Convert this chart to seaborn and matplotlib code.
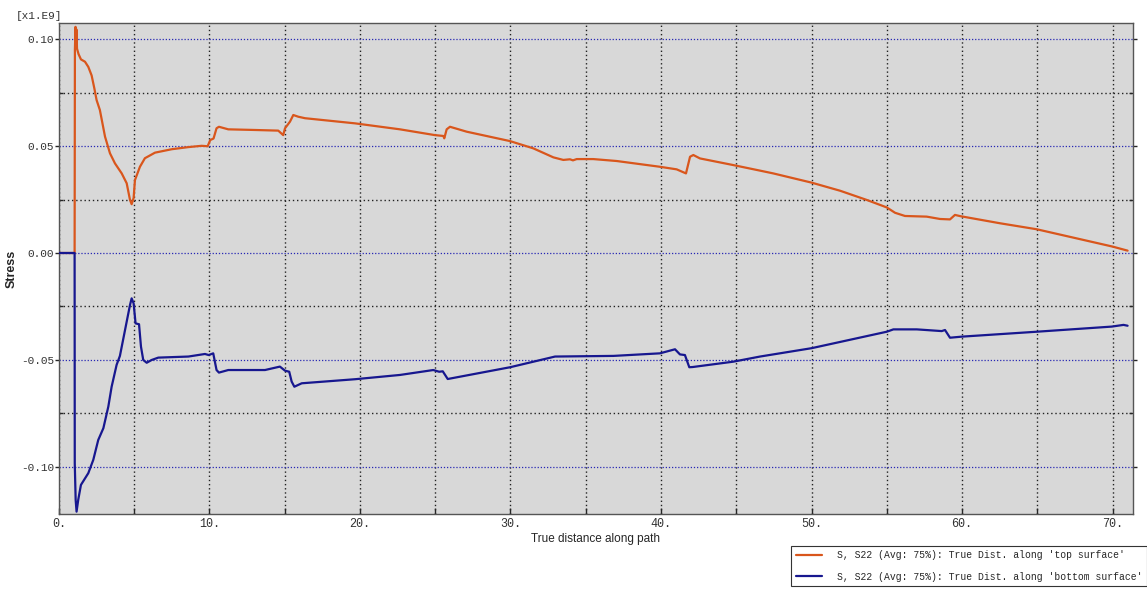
import numpy as np
import pandas as pd
import matplotlib
matplotlib.use("Agg")
import matplotlib.pyplot as plt
import seaborn as sns
from matplotlib.ticker import MultipleLocator, FixedLocator

# ---------- DATA (stress in units of 1e9) ----------
top_x = [0, 1.04, 1.06, 1.10, 1.13, 1.16, 1.20, 1.30, 1.46, 1.73, 1.95, 2.17, 2.35, 2.5,
         2.72, 3.06, 3.39, 3.72, 4.17, 4.5, 4.72, 4.83, 4.96, 5.05, 5.38, 5.71, 6.38,
         7.49, 8.6, 9.48, 9.88, 10.05, 10.27, 10.47, 10.63, 11.25, 13.02, 14.57, 14.9,
         15.02, 15.35, 15.57, 15.9, 16.35, 19.67, 22.66, 24.98, 25.54, 25.6, 25.76,
         25.98, 27.09, 29.97, 31.52, 32.85, 33.51, 33.95, 34.15, 34.4, 35.5, 37.05,
         39.93, 41.04, 41.66, 41.93, 42.15, 42.59, 44.8, 46.58, 47.46, 50.0, 51.9,
         53.67, 55.0, 55.55, 56.21, 57.65, 58.54, 59.2, 59.53, 59.9, 62.52, 64.96,
         70.0, 71.0]
top_y = [0, 0, 0.095, 0.1057, 0.097, 0.1045, 0.0955, 0.093, 0.0905, 0.0894, 0.087,
         0.083, 0.077, 0.0715, 0.0668, 0.0544, 0.0466, 0.0419, 0.0372, 0.0326, 0.0248,
         0.0228, 0.0257, 0.0341, 0.0403, 0.0443, 0.0469, 0.0485, 0.0495, 0.0501,
         0.0499, 0.0528, 0.0535, 0.0583, 0.059, 0.0578, 0.0575, 0.0572, 0.0551,
         0.0583, 0.0614, 0.0645, 0.0637, 0.063, 0.0606, 0.0578, 0.0551, 0.0547,
         0.0536, 0.0578, 0.059, 0.0567, 0.0523, 0.0489, 0.0447, 0.0435, 0.0438,
         0.0433, 0.0439, 0.0439, 0.043, 0.0403, 0.0391, 0.0372, 0.045, 0.0458,
         0.0442, 0.0411, 0.0385, 0.0372, 0.0329, 0.0291, 0.0248, 0.0213, 0.0188,
         0.0173, 0.017, 0.0159, 0.0157, 0.0178, 0.0172, 0.0139, 0.0111, 0.003, 0.0011]

bot_x = [0, 1.04, 1.05, 1.11, 1.17, 1.28, 1.46, 1.95, 2.28, 2.61, 2.95, 3.28, 3.5,
         3.83, 4.05, 4.39, 4.72, 4.83, 4.96, 5.09, 5.32, 5.45, 5.6, 5.83, 6.16, 6.6,
         8.6, 9.7, 9.95, 10.25, 10.47, 10.63, 11.25, 13.69, 14.68, 15.02, 15.3, 15.46,
         15.64, 16.13, 19.67, 22.66, 24.87, 25.26, 25.5, 25.83, 29.97, 32.96, 36.84,
         39.93, 40.93, 41.26, 41.59, 41.88, 42.1, 44.8, 46.58, 50.0, 55.0, 55.44,
         56.99, 58.65, 58.87, 59.2, 59.98, 64.96, 69.95, 70.73, 71.0]
bot_y = [0, 0, -0.0983, -0.1154, -0.1209, -0.1154, -0.1084, -0.1029, -0.0967,
         -0.0874, -0.0819, -0.0718, -0.0625, -0.0523, -0.0481, -0.036, -0.0243,
         -0.0212, -0.0235, -0.0329, -0.0333, -0.0438, -0.05, -0.0513, -0.05, -0.0489,
         -0.0484, -0.0472, -0.0477, -0.0469, -0.0547, -0.0559, -0.0547, -0.0547,
         -0.0531, -0.055, -0.0555, -0.0601, -0.0625, -0.0609, -0.059, -0.057, -0.0547,
         -0.0555, -0.0553, -0.0589, -0.0534, -0.0484, -0.0481, -0.0469, -0.045,
         -0.0474, -0.0477, -0.0534, -0.0533, -0.0508, -0.0484, -0.0445, -0.0368,
         -0.0357, -0.0357, -0.0365, -0.036, -0.0396, -0.0391, -0.0368, -0.0344,
         -0.0336, -0.034]

top_label = "S, S22 (Avg: 75%): True Dist. along 'top surface'"
bot_label = "S, S22 (Avg: 75%): True Dist. along 'bottom surface'"
y_ticks = [-0.10, -0.05, 0.00, 0.05, 0.10]
y_ticklabels = ["-0.10", "-0.05", "0.00", "0.05", "0.10"]
x_ticks = [0, 10, 20, 30, 40, 50, 60, 70]
x_ticklabels = ["0.", "10.", "20.", "30.", "40.", "50.", "60.", "70."]

ORANGE = "#d9561c"
NAVY = "#17178f"
MONO = ["Liberation Mono", "DejaVu Sans Mono"]

# ---------- PLOT ----------
sns.set_style("ticks")
plt.rcParams["font.family"] = ["Liberation Sans", "DejaVu Sans"]

fig = plt.figure(figsize=(11.47, 5.90), dpi=100)
ax = fig.add_axes([0.0514, 0.1288, 0.9364, 0.8322])
ax.set_facecolor("#d8d8d8")

top_df = pd.DataFrame({"dist": top_x, "stress": top_y})
bot_df = pd.DataFrame({"dist": bot_x, "stress": bot_y})
sns.lineplot(data=top_df, x="dist", y="stress", estimator=None, sort=False,
             color=ORANGE, lw=1.6, ax=ax, label=top_label, zorder=3)
sns.lineplot(data=bot_df, x="dist", y="stress", estimator=None, sort=False,
             color=NAVY, lw=1.6, ax=ax, label=bot_label, zorder=4)

ax.set_xlim(0, 71.36)
ax.set_ylim(-0.122, 0.1075)

# grids: black dotted for all, blue dotted on labelled stress levels
ax.xaxis.set_major_locator(FixedLocator(x_ticks))
ax.xaxis.set_minor_locator(MultipleLocator(5))
ax.yaxis.set_major_locator(FixedLocator(y_ticks))
ax.yaxis.set_minor_locator(MultipleLocator(0.025))
ax.set_xticklabels(x_ticklabels, fontfamily=MONO, fontsize=8.5, color="#333333")
ax.set_yticklabels(y_ticklabels, fontfamily=MONO, fontsize=8, color="#333333")

ax.grid(which="minor", axis="both", color="#222222", linestyle=(0, (1, 2)), lw=1.0)
ax.grid(which="major", axis="x", color="#222222", linestyle=(0, (1, 2)), lw=1.0)
ax.grid(which="major", axis="y", color="#2828b4", linestyle=(0, (1, 1.5)), lw=0.9)
ax.set_axisbelow(True)

ax.tick_params(axis="y", which="major", direction="out", length=3, width=1,
               pad=0.5, right=True)
ax.tick_params(axis="y", which="minor", direction="in", length=3, width=1, right=True)
ax.tick_params(axis="x", which="both", direction="in", length=4, width=1, pad=3)

for s in ax.spines.values():
    s.set_color("#555555")
    s.set_linewidth(1.0)

ax.set_xlabel("True distance along path", fontsize=8.5, labelpad=2)
ax.set_ylabel("Stress", fontsize=9, fontweight="bold")
ax.yaxis.set_label_coords(-0.038, 0.5)
fig.text(0.014, 0.967, "[x1.E9]", fontfamily=MONO, fontsize=8, color="#333333")

handles, labels = ax.get_legend_handles_labels()
ax.get_legend().remove()
leg = fig.legend(handles, labels, loc="upper right", bbox_to_anchor=(1.0, 0.0746),
                 prop={"family": MONO, "size": 7.0}, frameon=True, fancybox=False,
                 edgecolor="#333333", framealpha=1, borderpad=0.45, labelspacing=1.15,
                 handlelength=2.7, handletextpad=1.55, borderaxespad=0.0)
leg.get_frame().set_linewidth(0.8)

plt.savefig("out.png", dpi=100)
